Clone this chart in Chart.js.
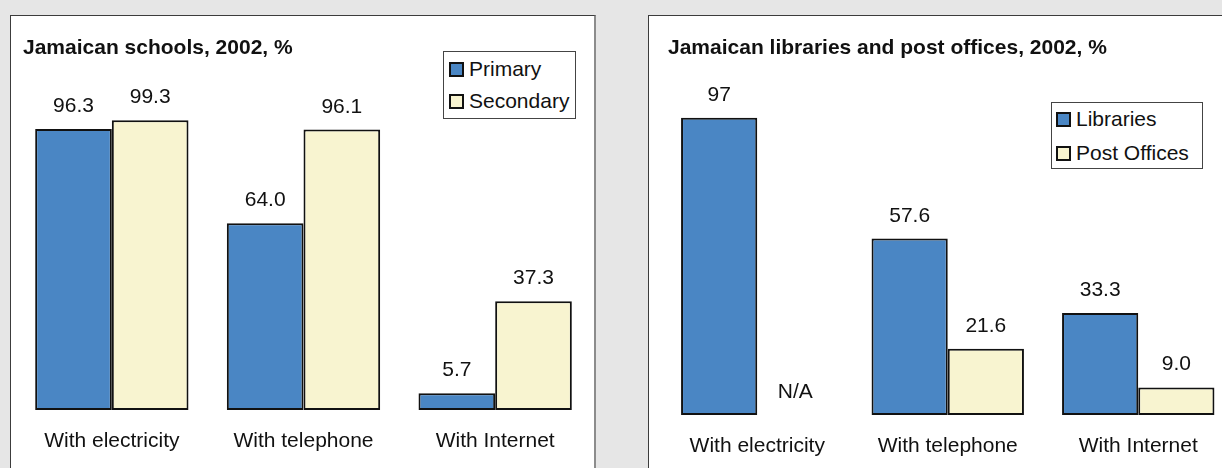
<!DOCTYPE html>
<html>
<head>
<meta charset="utf-8">
<script src="https://cdn.jsdelivr.net/npm/chart.js@4/dist/chart.umd.min.js"></script>
<style>
  html, body { margin: 0; padding: 0; }
  body { width: 1222px; height: 468px; overflow: hidden; background: #e6e6e6; position: relative;
         font-family: "Liberation Sans", Arial, sans-serif; color: #111; }
  .panel { position: absolute; top: 15px; height: 470px; background: #fff; border-top: 1px solid #3c3c3c; border-left: 1px solid #3c3c3c; }
  #p1 { left: 10px; width: 583px; border-right: 2px solid #8c8c8c; }
  #p2 { left: 648px; width: 600px; }
  .title { position: absolute; top: 36px; font-size: 21px; line-height: 21px; font-weight: bold; white-space: nowrap; }
  .legend { position: absolute; background: #fff; border: 1px solid #444; }
  .item { position: absolute; font-size: 21px; line-height: 21px; white-space: nowrap; }
  .sw { display: inline-block; width: 11px; height: 11px; border: 2px solid #111; margin-right: 5px; vertical-align: -1px; }
  canvas { position: absolute; top: 0; }
</style>
</head>
<body>
<div class="panel" id="p1"></div>
<div class="panel" id="p2"></div>

<canvas id="c1" width="611" height="468" style="left:0px"></canvas>
<canvas id="c2" width="600" height="468" style="left:640px"></canvas>

<div class="title" style="left:23px">Jamaican schools, 2002, %</div>
<div class="title" style="left:668px">Jamaican libraries and post offices, 2002, %</div>

<div class="legend" style="left:443px;top:51px;width:131px;height:66px"></div>
<div class="item" style="left:449px;top:58px"><span class="sw" style="background:#4a86c4"></span>Primary</div>
<div class="item" style="left:449px;top:90px"><span class="sw" style="background:#f8f4d0"></span>Secondary</div>

<div class="legend" style="left:1051px;top:102px;width:150px;height:65px"></div>
<div class="item" style="left:1056px;top:108px"><span class="sw" style="background:#4a86c4"></span>Libraries</div>
<div class="item" style="left:1056px;top:142px"><span class="sw" style="background:#f8f4d0"></span>Post Offices</div>

<script>
// ---- data ----
var categories = ["With electricity", "With telephone", "With Internet"];

var primary = [96.3, 64.0, 5.7];
var secondary = [99.3, 96.1, 37.3];
var primaryText = ["96.3", "64.0", "5.7"];
var secondaryText = ["99.3", "96.1", "37.3"];

var libraries = [97, 57.6, 33.3];
var postOffices = [null, 21.6, 9.0];
var librariesText = ["97", "57.6", "33.3"];
var postOfficesText = ["N/A", "21.6", "9.0"];

var blue = "#4a86c4";
var cream = "#f8f4d0";

// labels above each bar, N/A sits on the baseline
var barLabels = {
  id: "barLabels",
  afterDatasetsDraw: function(chart) {
    var ctx = chart.ctx;
    var ys = chart.scales.y;
    ctx.save();
    ctx.font = "21px 'Liberation Sans', Arial, sans-serif";
    ctx.fillStyle = "#111";
    ctx.textAlign = "center";
    ctx.textBaseline = "alphabetic";
    chart.data.datasets.forEach(function(ds, di) {
      var meta = chart.getDatasetMeta(di);
      meta.data.forEach(function(bar, i) {
        var v = ds.data[i];
        var top = ys.getPixelForValue(v == null ? 0 : v);
        ctx.fillText(ds.texts[i], bar.x, top - 17);
      });
    });
    ctx.restore();
  }
};

function makeChart(id, s1, s2, t1, t2, n1, n2, pad) {
  new Chart(document.getElementById(id).getContext("2d"), {
    type: "bar",
    data: {
      labels: categories,
      datasets: [
        { label: n1, data: s1, texts: t1, backgroundColor: blue, borderColor: "#111", borderWidth: 2, borderSkipped: false },
        { label: n2, data: s2, texts: t2, backgroundColor: cream, borderColor: "#111", borderWidth: 2, borderSkipped: false }
      ]
    },
    options: {
      responsive: false,
      animation: false,
      devicePixelRatio: 1,
      layout: { padding: pad },
      datasets: { bar: { barPercentage: 1, categoryPercentage: 0.8 } },
      plugins: { legend: { display: false }, tooltip: { enabled: false } },
      scales: {
        x: {
          grid: { display: false, drawTicks: false },
          border: { display: false },
          ticks: { padding: 19, color: "#111", font: { family: "'Liberation Sans', Arial, sans-serif", size: 21 } },
          afterFit: function(scale) { scale.height = 48; }
        },
        y: { display: false, min: 0, max: 110 }
      }
    },
    plugins: [barLabels]
  });
}

makeChart("c1", primary, secondary, primaryText, secondaryText, "Primary", "Secondary",
  { top: 89, bottom: 10, left: 16, right: 20 });
makeChart("c2", libraries, postOffices, librariesText, postOfficesText, "Libraries", "Post Offices",
  { top: 78, bottom: 5, left: 22, right: 6.5 });
</script>
</body>
</html>
